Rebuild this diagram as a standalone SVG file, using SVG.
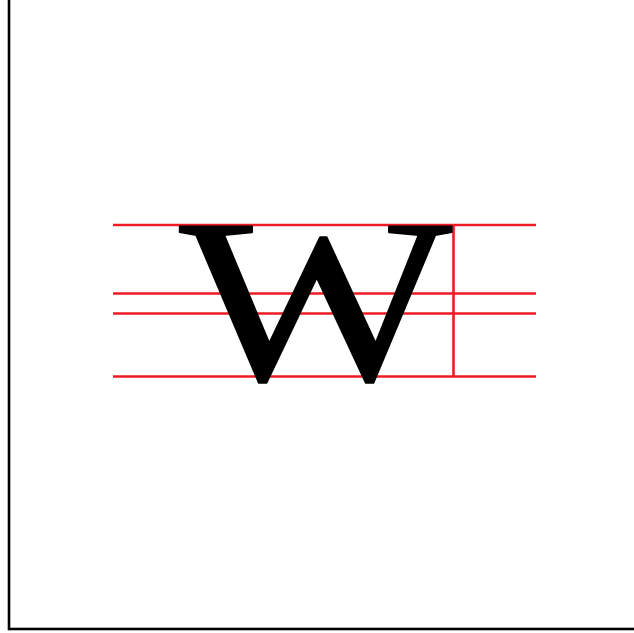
<svg xmlns="http://www.w3.org/2000/svg" width="634" height="633" viewBox="0 0 634 633">
<style>
.guide{stroke:#ed1c24;stroke-width:2.6;fill:none}
.frame{stroke:#000;stroke-width:2.6;fill:#fff}
.glyph{font-family:"Liberation Serif","Times New Roman",serif;font-size:234px;fill:#000;stroke:#000;stroke-width:1.6;stroke-linejoin:round}
</style>
<rect width="634" height="633" fill="#fff"/>
<rect id="frame" class="frame" x="9" y="-10" width="640" height="639"/>
<g id="guides">
<line class="guide" x1="113" y1="225" x2="536" y2="225"/>
<line class="guide" x1="113" y1="293.5" x2="536" y2="293.5"/>
<line class="guide" x1="113" y1="313.5" x2="536" y2="313.5"/>
<line class="guide" x1="113" y1="376.5" x2="536" y2="376.5"/>
<line class="guide" x1="453.5" y1="225" x2="453.5" y2="376.5"/>
</g>
<g id="letter">
<text class="glyph" transform="translate(179.5,379.5) scale(1.235,1)">W</text>
</g>
</svg>
